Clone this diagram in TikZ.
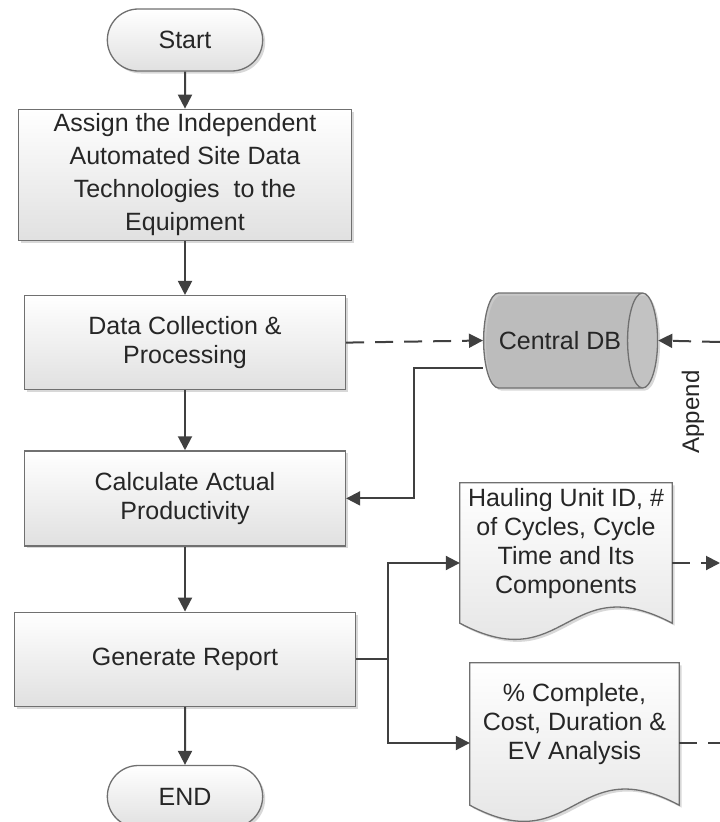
\documentclass[tikz,border=0pt]{standalone}
\usepackage{fontspec}
\setmainfont{Liberation Sans}
\usepackage{tikz}
\usetikzlibrary{arrows.meta,positioning,shapes.misc,shapes.geometric,shadows,backgrounds}
\definecolor{linec}{HTML}{404040}
\definecolor{edgec}{HTML}{707070}
\definecolor{txtc}{HTML}{262626}
\definecolor{dbfill}{HTML}{C8C8C8}

\begin{document}
\begin{tikzpicture}[x=1pt,y=1pt,>={Triangle[length=14pt,width=14pt]},
font=\fontsize{25}{29}\selectfont,text=txtc,
boxfill/.style={top color=white,bottom color=black!12,drop shadow={shadow xshift=2.5pt,shadow yshift=-2.5pt,fill=black!30}},
box/.style={draw=edgec,line width=1.3pt,boxfill,align=center,inner sep=2pt},
term/.style={rounded rectangle,draw=edgec,line width=1.3pt,boxfill,minimum width=162pt,minimum height=62pt},
doc/.style={align=center,minimum width=212pt,minimum height=122pt,inner sep=2pt},
docline/.style={draw=edgec,line width=1.3pt,boxfill},
arr/.style={->,line width=2pt,draw=linec},
darr/.style={arr,dash pattern=on 18pt off 11pt}]
\useasboundingbox (0,0) rectangle (720,-822);
% main flow
\node[term] (start) at (185,-40) {Start};
\node[box,below=37pt of start,minimum width=333pt,minimum height=131pt,font=\fontsize{25}{33}\selectfont] (assign) {Assign the Independent\\Automated Site Data\\Technologies\ \ to the\\Equipment};
\node[box,below=54pt of assign,minimum width=321pt,minimum height=94pt] (collect) {Data Collection \&\\Processing};
\node[box,below=60pt of collect,minimum width=321pt,minimum height=95pt] (calc) {Calculate Actual\\Productivity};
\node[box,below=65pt of calc,minimum width=341pt,minimum height=94pt] (report) {Generate Report};
\node[term,below=58pt of report] (end) {END};
% database and reports
\node[cylinder,draw=edgec,line width=1.3pt,cylinder uses custom fill,cylinder body fill=dbfill,cylinder end fill=dbfill!80,
  shape aspect=1.2,minimum height=174pt,minimum width=95pt,drop shadow={shadow xshift=2.5pt,shadow yshift=-2.5pt,fill=black!30}] (db) at (560,-340.5) {Central DB};
\node[doc] (haul) at (566,-544) {Hauling Unit ID, \#\\of Cycles, Cycle\\Time and Its\\Components};
\node[doc,minimum width=209pt] (ev) at (574.5,-724) {\% Complete,\\Cost, Duration \&\\EV Analysis};
\begin{scope}[on background layer]
\path[docline] (haul.north west) -- (haul.north east) -- ([yshift=-18pt]haul.south east) .. controls +(-106,56) and +(106,-56) .. ([yshift=-18pt]haul.south west) -- cycle;
\path[docline] (ev.north west) -- (ev.north east) -- ([yshift=-20pt]ev.south east) .. controls +(-104,56) and +(104,-56) .. ([yshift=-20pt]ev.south west) -- cycle;
\end{scope}
\node[rotate=90,font=\fontsize{24}{28}\selectfont] (append) at (693,-412) {Append};
\coordinate (outA) at (720,-342);
\coordinate (outB) at (720,-563);
\coordinate (outC) at (720,-743);
\coordinate (split) at ([xshift=32pt]report.east);
% connectors
\draw[arr](start)--(assign);\draw[arr](assign)--(collect);\draw[arr](collect)--(calc);
\draw[arr](calc)--(report);\draw[arr](report)--(end);
\draw[darr](collect.east)--(db.west);
\draw[darr](outA)--(db.east);
\draw[arr]([yshift=-27pt]db.west)-|([xshift=68pt]calc.east)--(calc.east);
\draw[arr,-](report.east)--(split);
\draw[arr](split)|-([yshift=-19pt]haul.west);
\draw[arr](split)|-([yshift=-19pt]ev.west);
\draw[darr]([yshift=-19pt]haul.east)--(outB);
\draw[darr,-]([yshift=-19pt]ev.east)--(outC);
\end{tikzpicture}
\end{document}
